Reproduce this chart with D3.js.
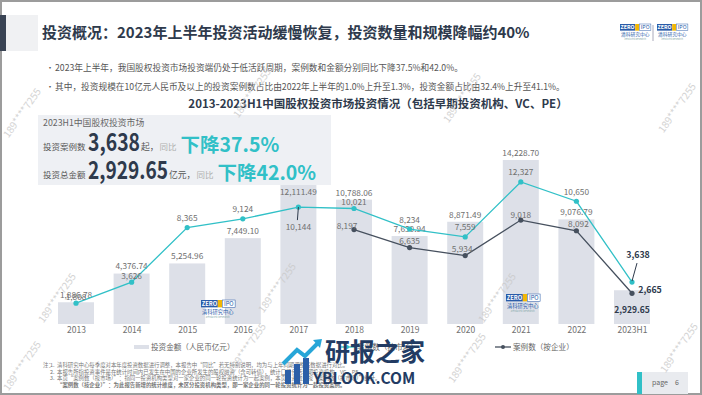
<!DOCTYPE html>
<html>
<head>
<meta charset="utf-8">
<script src="https://cdn.jsdelivr.net/npm/d3@7"></script>
<style>
  body { margin: 0; background: #fff; }
  svg text { font-family: "Noto Sans CJK SC", "Noto Sans", sans-serif; }
</style>
</head>
<body>
<div id="chart"></div>
<script>
// data
var years = ["2013", "2014", "2015", "2016", "2017", "2018", "2019", "2020", "2021", "2022", "2023H1"];
var amount = [1886.78, 4376.74, 5254.96, 7449.10, 12111.49, 10788.06, 7630.94, 8871.49, 14228.70, 9076.79, 2929.65];
var casesMarket = [1808, 3626, 8365, 9124, 10144, 10021, 8234, 7559, 12327, 10650, 3638];
var casesCompany = [null, null, null, null, null, 8197, 6635, 5934, 9018, 8092, 2665];

var legendLabels = ["投资金额（人民币亿元）", "案例数（按市场）", "案例数（按企业）"];

var W = 702, H = 395;
var cBar = "#dde0e8", cCyan = "#31c0c7", cDark = "#46505e", cText = "#707070", cNavy = "#2e3a4c";

var svg = d3.select("#chart").append("svg")
  .attr("width", W)
  .attr("height", H);

// slide frame + header
svg.append("rect").attr("x", 1).attr("y", 1).attr("width", W - 2).attr("height", H - 2)
  .attr("fill", "#fff").attr("stroke", "#9c9c9c").attr("stroke-width", 2);
svg.append("rect").attr("x", 0).attr("y", 15).attr("width", 6).attr("height", 36).attr("fill", "#3a4454");
svg.append("rect").attr("x", 6).attr("y", 15).attr("width", 32).attr("height", 36).attr("fill", "#f0f1f3");
svg.append("text").attr("x", 42).attr("y", 33).attr("dy", "0.35em")
  .attr("font-size", 15).attr("font-weight", "bold").attr("fill", cNavy)
  .text("投资概况：2023年上半年投资活动缓慢恢复，投资数量和规模降幅约40%");

// small logos
function logo(x, y, s) {
  var g = svg.append("g").attr("transform", "translate(" + x + "," + y + ") scale(" + s + ")");
  g.append("rect").attr("width", 16).attr("height", 7).attr("fill", "#2a5ba8");
  g.append("text").attr("x", 8).attr("y", 5.5).attr("text-anchor", "middle").attr("font-size", 5.5)
    .attr("font-weight", "bold").attr("fill", "#fff").text("ZERO");
  g.append("rect").attr("x", 16).attr("width", 4).attr("height", 7).attr("fill", "#f2b705");
  g.append("rect").attr("x", 20.5).attr("width", 12).attr("height", 7).attr("fill", "#fff").attr("stroke", "#2a5ba8").attr("stroke-width", 0.5);
  g.append("text").attr("x", 26.5).attr("y", 5.5).attr("text-anchor", "middle").attr("font-size", 5.5)
    .attr("fill", "#2a5ba8").text("IPO");
  g.append("text").attr("x", 16).attr("y", 13).attr("text-anchor", "middle").attr("font-size", 5)
    .attr("fill", "#2a5ba8").text("清科研究中心");
  g.append("text").attr("x", 16).attr("y", 17).attr("text-anchor", "middle").attr("font-size", 2.6)
    .attr("fill", "#8aa").text("Zero2IPO Research");
}
logo(620, 24, 0.95);
svg.append("line").attr("x1", 653).attr("x2", 653).attr("y1", 25).attr("y2", 41).attr("stroke", "#aab");
logo(657, 24, 0.95);

// bullets
var bullets = [
  "2023年上半年，我国股权投资市场投资端仍处于低活跃周期，案例数和金额分别同比下降37.5%和42.0%。",
  "其中，投资规模在10亿元人民币及以上的投资案例数占比由2022年上半年的1.0%上升至1.3%，投资金额占比由32.4%上升至41.1%。"
];
bullets.forEach(function(t, i) {
  var yy = 68 + i * 19;
  svg.append("text").attr("x", 46).attr("y", yy).attr("dy", "0.35em").attr("font-size", 8).attr("fill", "#555").text("•");
  svg.append("text").attr("x", 55).attr("y", yy).attr("dy", "0.35em").attr("font-size", 8.7).attr("fill", "#555").text(t);
});

svg.append("text").attr("x", 378).attr("y", 104).attr("dy", "0.35em").attr("text-anchor", "middle")
  .attr("font-size", 11.5).attr("font-weight", "bold").attr("fill", cNavy)
  .text("2013-2023H1中国股权投资市场投资情况（包括早期投资机构、VC、PE）");

// chart scales
var x = d3.scalePoint().domain(years).range([76, 632]);
var y = d3.scaleLinear().domain([0, 16000]).range([324, 139.6]);
var barW = 36;
var fmtAmt = d3.format(",.2f"), fmtCnt = d3.format(",");

var chart = svg.append("g");

chart.selectAll("rect.bar")
  .data(amount)
  .enter()
  .append("rect")
  .attr("class", "bar")
  .attr("x", (d, i) => x(years[i]) - barW / 2)
  .attr("y", d => y(d))
  .attr("width", barW)
  .attr("height", d => y(0) - y(d))
  .attr("fill", cBar);

// logos inside plot
logo(201, 300, 1.05);
logo(506, 294, 1.05);

// x labels
var xAxis = d3.axisBottom(x).tickSize(0).tickPadding(0);
var xg = chart.append("g").attr("transform", "translate(0,330)").call(xAxis);
xg.select(".domain").remove();
xg.selectAll("text").attr("font-size", 8.5).attr("fill", cText).attr("dy", "0.35em")
  .attr("font-family", "'Noto Sans CJK SC', sans-serif");

// bar labels
chart.selectAll("text.amt")
  .data(amount)
  .enter()
  .append("text")
  .attr("class", "amt")
  .attr("x", (d, i) => x(years[i]))
  .attr("y", function(d, i) {
    if (i === 4) return y(d) + 8;
    if (i === 10) return (y(d) + y(0)) / 2 + 3;
    return y(d) - 7;
  })
  .attr("dy", "0.35em")
  .attr("text-anchor", "middle")
  .attr("font-size", (d, i) => i === 10 ? 8.5 : 8.3)
  .attr("font-weight", (d, i) => i === 10 ? "bold" : "normal")
  .attr("fill", (d, i) => i === 10 ? cNavy : cText)
  .text(d => fmtAmt(d));

// lines
var line = d3.line()
  .defined(d => d != null)
  .x((d, i) => x(years[i]))
  .y(d => y(d));

chart.append("path").attr("d", line(casesCompany)).attr("fill", "none").attr("stroke", cDark).attr("stroke-width", 1.3);
chart.append("path").attr("d", line(casesMarket)).attr("fill", "none").attr("stroke", cCyan).attr("stroke-width", 1.3);

chart.selectAll("circle.dk")
  .data(casesCompany.map((v, i) => ({v: v, i: i})).filter(d => d.v != null))
  .enter().append("circle").attr("class", "dk")
  .attr("cx", d => x(years[d.i])).attr("cy", d => y(d.v)).attr("r", 2.6).attr("fill", cDark);
chart.selectAll("circle.cy")
  .data(casesMarket)
  .enter().append("circle").attr("class", "cy")
  .attr("cx", (d, i) => x(years[i])).attr("cy", d => y(d)).attr("r", 2.6).attr("fill", cCyan);

// leader lines
chart.append("line").attr("x1", x("2017")).attr("y1", y(casesMarket[4]))
  .attr("x2", x("2017") - 1).attr("y2", y(casesMarket[4]) + 13).attr("stroke", cNavy).attr("stroke-width", 1);
chart.append("line").attr("x1", x("2023H1")).attr("y1", y(casesMarket[10]) - 1)
  .attr("x2", x("2023H1") + 5).attr("y2", y(casesMarket[10]) - 19).attr("stroke", cNavy).attr("stroke-width", 1);

// cyan labels
chart.selectAll("text.cm")
  .data(casesMarket)
  .enter()
  .append("text")
  .attr("class", "cm")
  .attr("x", function(d, i) {
    if (i === 10) return x(years[i]) + 6;
    return x(years[i]);
  })
  .attr("y", function(d, i) {
    if (i === 4) return y(d) + 20;
    if (i === 10) return y(d) - 27;
    if (i === 0 || i === 1 || i === 5) return y(d) - 6;
    return y(d) - 9.5;
  })
  .attr("dy", "0.35em")
  .attr("text-anchor", "middle")
  .attr("font-size", (d, i) => i === 10 ? 8.8 : 8.3)
  .attr("font-weight", (d, i) => i === 10 ? "bold" : "normal")
  .attr("fill", (d, i) => i === 10 ? cNavy : cText)
  .text(d => fmtCnt(d));

// dark labels
chart.selectAll("text.cc")
  .data(casesCompany.map((v, i) => ({v: v, i: i})).filter(d => d.v != null))
  .enter()
  .append("text")
  .attr("class", "cc")
  .attr("x", function(d) {
    var cx = x(years[d.i]);
    if (d.i === 5) return cx - 7;
    if (d.i === 7) return cx - 3;
    if (d.i === 10) return cx + 18;
    return cx + (d.i === 9 ? 2 : 0);
  })
  .attr("y", function(d) {
    var cy = y(d.v);
    if (d.i === 5) return cy - 3;
    if (d.i === 10) return cy - 3;
    if (d.i === 8) return cy - 4.5;
    return cy - 6.5;
  })
  .attr("dy", "0.35em")
  .attr("text-anchor", "middle")
  .attr("font-size", d => d.i === 10 ? 8.8 : 8.3)
  .attr("font-weight", d => d.i === 10 ? "bold" : "normal")
  .attr("fill", d => d.i === 10 ? cNavy : cText)
  .text(d => fmtCnt(d.v));

// info box
svg.append("rect").attr("x", 38).attr("y", 115).attr("width", 293).attr("height", 70).attr("fill", "#eef0f4");
svg.append("text").attr("x", 43).attr("y", 123).attr("dy", "0.35em").attr("font-size", 8.8).attr("fill", "#666").text("2023H1中国股权投资市场");
var rows = [
  {label: "投资案例数", big: "3,638", bigW: 52, unit: "起，", pct: "下降37.5%", base: 151},
  {label: "投资总金额", big: "2,929.65", bigW: 80, unit: "亿元，", pct: "下降42.0%", base: 179}
];
rows.forEach(function(r) {
  var cx = 43;
  svg.append("text").attr("x", cx).attr("y", r.base - 1).attr("font-size", 8.5).attr("fill", "#555").text(r.label);
  cx = 88;
  svg.append("text").attr("x", cx).attr("y", r.base).attr("font-size", 24).attr("font-weight", "bold")
    .attr("font-family", "'Liberation Sans Narrow', 'Liberation Sans', sans-serif")
    .attr("textLength", r.bigW).attr("lengthAdjust", "spacingAndGlyphs")
    .attr("fill", cNavy).text(r.big);
  cx += r.bigW + 1;
  svg.append("text").attr("x", cx).attr("y", r.base - 1).attr("font-size", 8.8).attr("fill", "#555").text(r.unit);
  cx += r.unit.length * 8.8 + 1;
  svg.append("text").attr("x", cx).attr("y", r.base - 1).attr("font-size", 8.5).attr("fill", "#b0b0b0").text("同比");
  cx += 21;
  svg.append("text").attr("x", cx).attr("y", r.base + 1).attr("font-size", 19.5).attr("font-weight", "bold")
    .attr("fill", cCyan).text(r.pct);
});

// legend
var lg = svg.append("g").attr("transform", "translate(0,347)");
lg.append("line").attr("x1", 134).attr("x2", 149).attr("y1", 0).attr("y2", 0).attr("stroke", cBar).attr("stroke-width", 4);
lg.append("text").attr("x", 151).attr("y", 0).attr("dy", "0.35em").attr("font-size", 7.6).attr("fill", "#666").text(legendLabels[0]);
lg.append("line").attr("x1", 339).attr("x2", 355).attr("y1", 0).attr("y2", 0).attr("stroke", cCyan).attr("stroke-width", 1.3);
lg.append("circle").attr("cx", 347).attr("cy", 0).attr("r", 2).attr("fill", cCyan);
lg.append("text").attr("x", 357).attr("y", 0).attr("dy", "0.35em").attr("font-size", 7.6).attr("fill", "#666").text(legendLabels[1]);
lg.append("line").attr("x1", 495).attr("x2", 511).attr("y1", 0).attr("y2", 0).attr("stroke", cDark).attr("stroke-width", 1.3);
lg.append("circle").attr("cx", 503).attr("cy", 0).attr("r", 2).attr("fill", cDark);
lg.append("text").attr("x", 513).attr("y", 0).attr("dy", "0.35em").attr("font-size", 7.6).attr("fill", "#666").text(legendLabels[2]);

// notes
var notes = [
  ["注：", "1.", "清科研究中心每季度对本年度投资数据进行调整，本报告中“同比”若无特别说明，均为与上年同期调整后数据进行对比。"],
  ["", "2.", "本报告所指投资事件是在统计时间内已发生在中国的企业所发生的股权融资（含可转债），统计口径包括早期投资机构、VC、PE。"],
  ["", "3.", "本页“案例数（按市场）”：指同一投资机构类型对一家企业的同一轮投资统计为一起案例，本页投资数量按“案例数（按市场）”统计。"],
  ["", "", "“案例数（按企业）”：为此报告新增的统计维度，未区分投资机构类型，即一家企业的同一轮投资统计为一起投资案例。"]
];
notes.forEach(function(n, i) {
  var yy = 365 + i * 6.8;
  svg.append("text").attr("x", 43).attr("y", yy).attr("dy", "0.35em").attr("font-size", 5.4).attr("fill", "#777").text(n[0]);
  svg.append("text").attr("x", 50).attr("y", yy).attr("dy", "0.35em").attr("font-size", 5.4).attr("fill", "#777").text(n[1]);
  svg.append("text").attr("x", 57).attr("y", yy).attr("dy", "0.35em").attr("font-size", 5.4).attr("fill", "#777")
    .attr("font-weight", i === 3 ? "bold" : "normal").text(n[2]);
});

// page box
svg.append("rect").attr("x", 637).attr("y", 372).attr("width", 51).attr("height", 22).attr("fill", "#e9ebef");
svg.append("rect").attr("x", 637).attr("y", 372).attr("width", 5).attr("height", 22).attr("fill", cCyan);
svg.append("text").attr("x", 652).attr("y", 383).attr("dy", "0.35em").attr("font-size", 7).attr("fill", "#666").text("page");
svg.append("text").attr("x", 675).attr("y", 383).attr("dy", "0.35em").attr("font-size", 7).attr("fill", "#666").text("6");

// diagonal phone watermarks
var wm = [[25, 115], [255, 95], [465, 100], [680, 110], [60, 300], [280, 290], [500, 300], [25, 368], [250, 350], [470, 360], [682, 350]];
wm.forEach(function(p) {
  svg.append("text").attr("transform", "translate(" + p[0] + "," + p[1] + ") rotate(-55)")
    .attr("text-anchor", "middle").attr("font-size", 10).attr("fill", "#cacaca").attr("opacity", 0.8)
    .text("189****7255");
});

// site watermark
var wg = svg.append("g").attr("transform", "translate(285,340)");
[[0, 30, 6, 14], [9, 24, 6, 20], [18, 18, 6, 26]].forEach(function(b) {
  wg.append("rect").attr("x", b[0]).attr("y", b[1]).attr("width", b[2]).attr("height", b[3]).attr("fill", "#2b5fa8");
});
wg.append("path").attr("d", "M-2,24 L12,10 L20,16 L34,2").attr("fill", "none").attr("stroke", "#27a6d8").attr("stroke-width", 4);
wg.append("path").attr("d", "M28,0 L37,-1 L35,8 Z").attr("fill", "#27a6d8");
wg.append("text").attr("x", 40).attr("y", 21).attr("font-size", 25).attr("font-weight", "bold").attr("fill", "#223b63").text("研报之家");
wg.append("text").attr("x", 28).attr("y", 44).attr("font-size", 15.5).attr("font-weight", "bold")
  .attr("font-family", "'Liberation Sans', sans-serif").attr("fill", "#223b63").text("YBLOOK.COM");
</script>
</body>
</html>
